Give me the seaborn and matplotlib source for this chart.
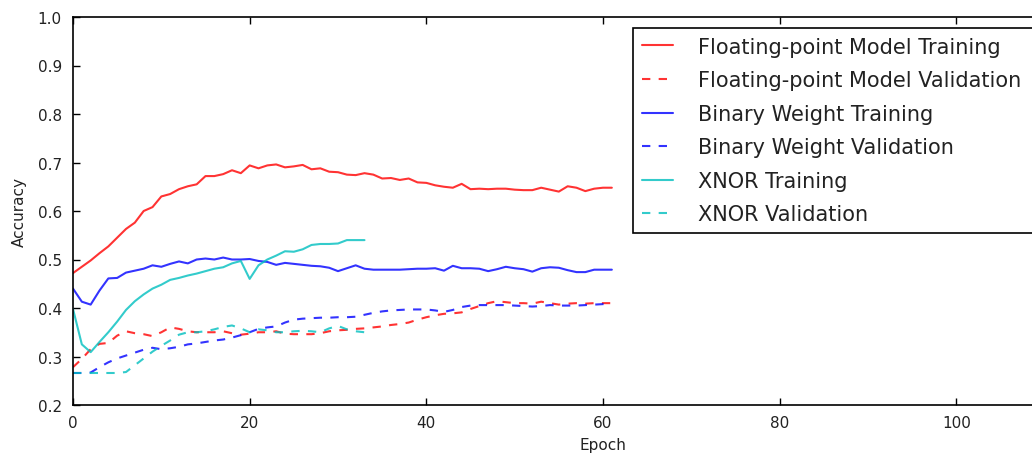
import matplotlib
matplotlib.use("Agg")
import matplotlib.pyplot as plt
import seaborn as sns
import pandas as pd

# ---------------- data ----------------
epochs_full = list(range(62))
epochs_xnor = list(range(34))

float_train = [0.472, 0.485, 0.498, 0.513, 0.527, 0.545, 0.563, 0.576, 0.600, 0.608,
               0.630, 0.635, 0.645, 0.651, 0.655, 0.672, 0.672, 0.676, 0.684, 0.678,
               0.694, 0.688, 0.694, 0.696, 0.690, 0.692, 0.695, 0.686, 0.688, 0.681,
               0.680, 0.675, 0.674, 0.678, 0.675, 0.667, 0.668, 0.664, 0.667, 0.659,
               0.658, 0.653, 0.650, 0.648, 0.656, 0.645, 0.646, 0.645, 0.646, 0.646,
               0.644, 0.643, 0.643, 0.648, 0.644, 0.640, 0.651, 0.648, 0.641, 0.646,
               0.648, 0.648]
float_val = [0.278, 0.295, 0.315, 0.326, 0.328, 0.343, 0.352, 0.348, 0.346, 0.342,
             0.350, 0.360, 0.357, 0.352, 0.350, 0.350, 0.350, 0.352, 0.348, 0.345,
             0.347, 0.350, 0.350, 0.352, 0.347, 0.346, 0.346, 0.346, 0.348, 0.352,
             0.354, 0.355, 0.357, 0.358, 0.360, 0.362, 0.365, 0.367, 0.370, 0.376,
             0.381, 0.385, 0.388, 0.389, 0.391, 0.398, 0.404, 0.410, 0.414, 0.412,
             0.410, 0.410, 0.409, 0.413, 0.410, 0.407, 0.409, 0.410, 0.409, 0.410,
             0.410, 0.410]
binary_train = [0.440, 0.413, 0.407, 0.436, 0.461, 0.462, 0.473, 0.477, 0.481, 0.488,
                0.485, 0.491, 0.496, 0.492, 0.500, 0.502, 0.500, 0.504, 0.500, 0.500,
                0.501, 0.497, 0.495, 0.489, 0.493, 0.491, 0.489, 0.487, 0.486, 0.483,
                0.476, 0.482, 0.488, 0.481, 0.479, 0.479, 0.479, 0.479, 0.480, 0.481,
                0.481, 0.482, 0.477, 0.487, 0.482, 0.482, 0.481, 0.476, 0.480, 0.485,
                0.482, 0.480, 0.475, 0.482, 0.484, 0.483, 0.478, 0.474, 0.474, 0.479,
                0.479, 0.479]
binary_val = [0.266, 0.266, 0.267, 0.278, 0.288, 0.296, 0.302, 0.308, 0.314, 0.318,
              0.315, 0.317, 0.320, 0.325, 0.327, 0.330, 0.333, 0.335, 0.339, 0.344,
              0.350, 0.357, 0.360, 0.362, 0.370, 0.376, 0.378, 0.379, 0.380, 0.380,
              0.381, 0.381, 0.382, 0.386, 0.390, 0.393, 0.395, 0.396, 0.397, 0.397,
              0.397, 0.395, 0.392, 0.396, 0.402, 0.405, 0.406, 0.406, 0.406, 0.406,
              0.405, 0.404, 0.403, 0.404, 0.406, 0.405, 0.405, 0.405, 0.406, 0.407,
              0.408, 0.408]
xnor_train = [0.398, 0.325, 0.309, 0.330, 0.350, 0.372, 0.396, 0.414, 0.428, 0.440,
              0.448, 0.458, 0.462, 0.467, 0.471, 0.476, 0.481, 0.484, 0.492, 0.497,
              0.460, 0.488, 0.500, 0.508, 0.517, 0.516, 0.521, 0.530, 0.532, 0.532,
              0.533, 0.540, 0.540, 0.540]
xnor_val = [0.266, 0.266, 0.266, 0.266, 0.266, 0.266, 0.268, 0.282, 0.296, 0.310,
            0.322, 0.333, 0.345, 0.350, 0.350, 0.352, 0.356, 0.361, 0.364, 0.358,
            0.350, 0.356, 0.354, 0.350, 0.350, 0.352, 0.353, 0.352, 0.350, 0.358,
            0.363, 0.356, 0.352, 0.350]

labels = ["Floating-point Model Training", "Floating-point Model Validation",
          "Binary Weight Training", "Binary Weight Validation",
          "XNOR Training", "XNOR Validation"]
x_ticks = [0, 20, 40, 60, 80, 100]
y_ticks = [0.2, 0.3, 0.4, 0.5, 0.6, 0.7, 0.8, 0.9, 1.0]

# ---------------- style ----------------
sns.set_style("ticks")
plt.rcParams.update({
    "font.family": ["DejaVu Sans"],
    "xtick.direction": "in",
    "ytick.direction": "in",
    "xtick.top": True,
    "ytick.right": True,
    "lines.scale_dashes": False,
    "lines.dashed_pattern": [6, 6],
    "axes.edgecolor": "black",
    "text.color": "#222222",
    "axes.labelcolor": "#222222",
    "xtick.color": "black",
    "ytick.color": "black",
    "xtick.labelcolor": "#222222",
    "ytick.labelcolor": "#222222",
})

fig = plt.figure(figsize=(10.32, 4.56), dpi=100)
ax = fig.add_axes([73 / 1032, 50 / 456, 1060 / 1032, 388 / 456])

series = [
    (epochs_full, float_train, "red", "-"),
    (epochs_full, float_val, "red", "--"),
    (epochs_full, binary_train, "blue", "-"),
    (epochs_full, binary_val, "blue", "--"),
    (epochs_xnor, xnor_train, (0.0, 0.75, 0.75), "-"),
    (epochs_xnor, xnor_val, (0.0, 0.75, 0.75), "--"),
]
for (xs, ys, col, ls), lab in zip(series, labels):
    df = pd.DataFrame({"Epoch": xs, "Accuracy": ys})
    sns.lineplot(data=df, x="Epoch", y="Accuracy", ax=ax, color=col,
                 linestyle=ls, linewidth=1.5, alpha=0.8, label=lab)

ax.set_xlim(0, 120)
ax.set_ylim(0.2, 1.0)
ax.set_xticks(x_ticks)
ax.set_yticks(y_ticks)
ax.set_yticklabels([f"{v:.1f}" for v in y_ticks])
ax.tick_params(axis="both", which="major", length=5, width=1, labelsize=11)
ax.tick_params(axis="x", pad=7)
ax.tick_params(axis="y", pad=8)
for sp in ax.spines.values():
    sp.set_linewidth(1.2)
ax.set_xlabel("Epoch", fontsize=11, labelpad=5)
ax.set_ylabel("Accuracy", fontsize=11, labelpad=8)

x0 = 633 / 1032
y1 = 1 - 29 / 456
leg = ax.legend(loc="upper left",
                bbox_to_anchor=(x0, y1 - 0.5, (1050 - 633) / 1032, 0.5),
                bbox_transform=fig.transFigure, mode="expand",
                fontsize=15.0, handlelength=1.5, handletextpad=1.2,
                labelspacing=0.65, borderpad=0.42, borderaxespad=0,
                fancybox=False, framealpha=1, edgecolor="black")
leg.get_frame().set_linewidth(1.2)

fig.savefig("out.png", dpi=100)
